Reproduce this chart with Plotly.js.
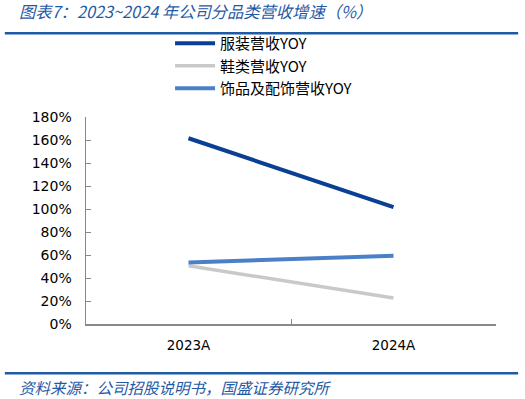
<!DOCTYPE html>
<html>
<head>
<meta charset="utf-8">
<script src="https://cdn.plot.ly/plotly-3.0.1.min.js"></script>
<style>
html,body{margin:0;padding:0;background:#fff;}
#chart{width:525px;height:399px;}
</style>
</head>
<body>
<div id="chart"></div>
<script>
const categories = ["2023A", "2024A"];
const seriesNames = ["服装营收YOY", "鞋类营收YOY", "饰品及配饰营收YOY"];
const apparel = [161.5, 101.6];
const footwear = [50.6, 22.6];
const accessories = [53.5, 59.3];
const yTickValues = [0, 20, 40, 60, 80, 100, 120, 140, 160, 180];
const yTickLabels = ["0%", "20%", "40%", "60%", "80%", "100%", "120%", "140%", "160%", "180%"];

const colors = ["#0B3F94", "#C9C9C9", "#4A80C8"];
const widths = [4, 3.5, 4];
const values = [apparel, footwear, accessories];

const traces = values.map((v, i) => ({
  type: "scatter",
  mode: "lines",
  x: categories,
  y: v,
  name: seriesNames[i],
  line: {color: colors[i], width: widths[i]},
  hoverinfo: "skip"
}));

const cjk = "'Noto Sans CJK SC', 'DejaVu Sans', sans-serif";
const layout = {
  width: 525,
  height: 399,
  margin: {l: 86, r: 29, t: 117, b: 75},
  paper_bgcolor: "#ffffff",
  plot_bgcolor: "#ffffff",
  showlegend: true,
  legend: {
    x: 0.205, y: 1.435, xanchor: "left", yanchor: "top",
    font: {family: cjk, size: 15, color: "#000000"},
    tracegroupgap: 0,
    itemwidth: 40,
    bgcolor: "rgba(0,0,0,0)"
  },
  xaxis: {
    type: "category",
    range: [-0.5, 1.5],
    showline: true,
    linecolor: "#888888",
    linewidth: 1.5,
    ticks: "inside",
    tickson: "boundaries",
    ticklen: 5,
    tickcolor: "#888888",
    showgrid: false,
    zeroline: false,
    ticklabelstandoff: 8,
    tickfont: {family: "'DejaVu Sans', sans-serif", size: 13.5, color: "#000000"}
  },
  yaxis: {
    range: [0, 180],
    tickvals: yTickValues,
    ticktext: yTickLabels,
    showline: true,
    linecolor: "#888888",
    linewidth: 1.5,
    ticks: "inside",
    ticklen: 5,
    tickcolor: "#888888",
    showgrid: false,
    zeroline: false,
    ticklabelstandoff: 10,
    tickfont: {family: "'DejaVu Sans', sans-serif", size: 14, color: "#000000"}
  },
  shapes: [
    {type: "line", xref: "paper", yref: "paper", x0: -0.198, x1: 1.054, y0: 1.405, y1: 1.405,
     line: {color: "#1F5AA6", width: 2.5}},
    {type: "line", xref: "paper", yref: "paper", x0: -0.198, x1: 1.054, y0: -0.238, y1: -0.238,
     line: {color: "#1F5AA6", width: 2.5}}
  ],
  annotations: [
    {text: "<i>图表7：2023~2024 年公司分品类营收增速（%）</i>", xref: "paper", yref: "paper",
     x: -0.168, y: 1.51, xanchor: "left", yanchor: "middle", showarrow: false,
     font: {family: cjk, size: 16.3, color: "#1F5AA6"}},
    {text: "<i>资料来源：公司招股说明书，国盛证券研究所</i>", xref: "paper", yref: "paper",
     x: -0.168, y: -0.302, xanchor: "left", yanchor: "middle", showarrow: false,
     font: {family: cjk, size: 15.5, color: "#1F5AA6"}}
  ]
};

Plotly.newPlot("chart", traces, layout, {displayModeBar: false, staticPlot: true});
</script>
</body>
</html>
